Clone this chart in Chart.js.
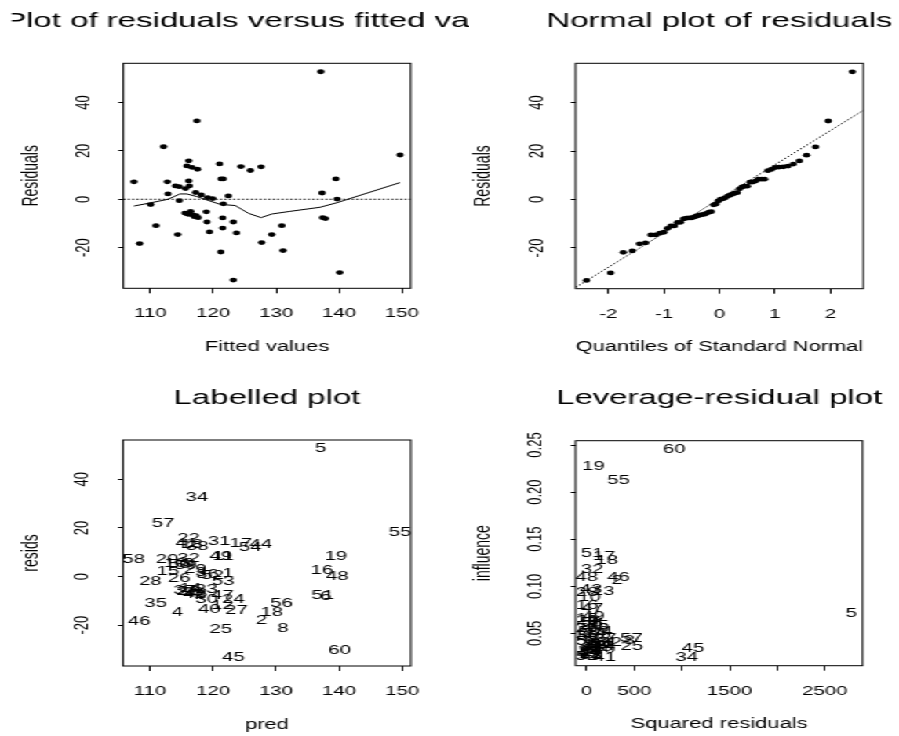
<!DOCTYPE html>
<html>
<head>
<meta charset="utf-8">
<title>Regression diagnostics</title>
<script src="https://cdn.jsdelivr.net/npm/chart.js@4"></script>
<style>
  html, body { margin: 0; padding: 0; background: #fff; overflow: hidden; }
  /* the original picture is stretched sideways, so draw narrow and scale x */
  #wrap { position: absolute; left: 0; top: 0; width: 573px; height: 736px;
          transform: scaleX(1.56894); transform-origin: 0 0; }
  #wrap canvas { position: absolute; }
</style>
</head>
<body>
<div id="wrap">
  <canvas id="c1" width="299" height="368" style="left:0;top:0"></canvas>
  <canvas id="c2" width="274" height="368" style="left:299px;top:0"></canvas>
  <canvas id="c3" width="299" height="368" style="left:0;top:368px"></canvas>
  <canvas id="c4" width="274" height="368" style="left:299px;top:368px"></canvas>
</div>
<script>
// observation numbers 1..60
const obsIds = [1, 2, 3, 4, 5, 6, 7, 8, 9, 10,
  11, 12, 13, 14, 15, 16, 17, 18, 19, 20,
  21, 22, 23, 24, 25, 26, 27, 28, 29, 30,
  31, 32, 33, 34, 35, 36, 37, 38, 39, 40,
  41, 42, 43, 44, 45, 46, 47, 48, 49, 50,
  51, 52, 53, 54, 55, 56, 57, 58, 59, 60];

const fitted = [122.4, 127.7, 118.1, 114.35, 137.1, 137.85, 117.6, 131.1, 116.2, 114.0,
  121.6, 121.5, 116.6, 116.4, 112.8, 137.3, 124.4, 129.3, 139.5, 112.7,
  115.9, 116.1, 118.9, 123.2, 121.2, 114.6, 123.7, 110.05, 117.2, 119.0,
  121.0, 116.1, 116.8, 117.4, 110.9, 119.1, 115.5, 117.5, 116.2, 119.4,
  115.8, 117.0, 117.3, 127.6, 123.2, 108.3, 121.5, 139.7, 121.25, 114.6,
  137.4, 119.9, 121.6, 125.9, 149.7, 130.9, 112.1, 107.4, 115.6, 140.1];

const resids = [1.4, -17.9, 1.8, -14.6, 52.7, -8.0, -7.6, -21.2, 5.5, 5.5,
  8.4, -11.9, 13.2, -5.0, 2.2, 2.6, 13.5, -14.6, 8.4, 7.2,
  -6.1, 15.9, -5.2, -9.4, -21.8, -0.6, -13.9, -2.2, 2.8, -9.4,
  14.6, 7.6, -6.5, 32.4, -10.9, 0.7, -5.7, 12.4, -6.2, -13.5,
  13.8, -7.2, -6.8, 13.4, -33.4, -18.3, -7.7, 0.1, 8.4, 5.2,
  -7.6, 0.3, -1.9, 11.9, 18.3, -10.9, 21.7, 7.2, 4.4, -30.3];

const influence = [0.030, 0.106, 0.035, 0.052, 0.071, 0.062, 0.033, 0.043, 0.040, 0.088,
  0.038, 0.045, 0.095, 0.030, 0.066, 0.080, 0.132, 0.128, 0.227, 0.058,
  0.028, 0.040, 0.032, 0.050, 0.036, 0.055, 0.045, 0.094, 0.064, 0.037,
  0.040, 0.118, 0.027, 0.025, 0.058, 0.048, 0.031, 0.035, 0.029, 0.033,
  0.025, 0.034, 0.097, 0.036, 0.034, 0.109, 0.076, 0.109, 0.068, 0.052,
  0.135, 0.026, 0.042, 0.038, 0.212, 0.055, 0.045, 0.062, 0.047, 0.245];

// smooth line through the residual plot
const smoothX = [107.4, 110.0, 112.8, 114.7, 115.8, 117.4, 119.0, 121.1, 123.5, 125.6, 127.6, 129.3, 132.2, 137.0, 139.7, 149.7];
const smoothY = [-2.8, -1.5, 0.0, 2.2, 2.2, 1.1, -0.3, -2.1, -2.6, -5.8, -7.6, -6.1, -5.0, -3.3, -1.4, 6.9];

// normal scores for n = 60
const normScores = [-2.394, -1.960, -1.732, -1.569, -1.440, -1.331, -1.235, -1.150, -1.073, -1.001,
  -0.935, -0.872, -0.812, -0.755, -0.701, -0.649, -0.598, -0.549, -0.501, -0.454,
  -0.408, -0.363, -0.319, -0.275, -0.232, -0.189, -0.147, -0.105, -0.063, -0.021,
  0.021, 0.063, 0.105, 0.147, 0.189, 0.232, 0.275, 0.319, 0.363, 0.408,
  0.454, 0.501, 0.549, 0.598, 0.649, 0.701, 0.755, 0.812, 0.872, 0.935,
  1.001, 1.073, 1.150, 1.235, 1.331, 1.440, 1.569, 1.732, 1.960, 2.394];
const qqIntercept = 0.25;
const qqSlope = 14.1;

// ticks
const fitTicks = [110, 120, 130, 140, 150];
const fitLabels = ['110', '120', '130', '140', '150'];
const resTicks = [-20, 0, 20, 40];
const resLabels = ['-20', '0', '20', '40'];
const normTicks = [-2, -1, 0, 1, 2];
const normLabels = ['-2', '-1', '0', '1', '2'];
const sqTicks = [0, 500, 1000, 1500, 2000, 2500];
const sqLabels = ['0', '500', '', '1500', '', '2500'];
const infTicks = [0.05, 0.10, 0.15, 0.20, 0.25];
const infLabels = ['0.05', '0.10', '0.15', '0.20', '0.25'];

Chart.defaults.font.family = '"Liberation Sans", Arial, Helvetica, sans-serif';
Chart.defaults.color = '#000';

const boxPlugin = {
  id: 'rbox',
  afterDatasetsDraw(chart) {
    const { ctx, chartArea: a } = chart;
    ctx.save();
    ctx.strokeStyle = '#000';
    ctx.lineWidth = 1;
    ctx.strokeRect(a.left, a.top, a.right - a.left, a.bottom - a.top);
    ctx.restore();
  }
};

function titlePlugin(text, y, clipLeft) {
  return {
    id: 'rtitle',
    afterDraw(chart) {
      const { ctx, chartArea: a, width, height } = chart;
      ctx.save();
      ctx.beginPath();
      ctx.rect(clipLeft, 0, width - clipLeft, height);
      ctx.clip();
      ctx.font = '21px "Liberation Sans", Arial, sans-serif';
      ctx.fillStyle = '#000';
      ctx.textAlign = 'center';
      ctx.textBaseline = 'alphabetic';
      ctx.fillText(text, (a.left + a.right) / 2, y);
      ctx.restore();
    }
  };
}

// writes the observation number at each point of dataset 0
function labelPlugin(ids) {
  return {
    id: 'rlabels',
    afterDatasetsDraw(chart) {
      const ctx = chart.ctx;
      const meta = chart.getDatasetMeta(0);
      ctx.save();
      ctx.font = '13px "Liberation Sans", Arial, sans-serif';
      ctx.fillStyle = '#000';
      ctx.textAlign = 'center';
      ctx.textBaseline = 'middle';
      meta.data.forEach((el, i) => ctx.fillText(String(ids[i]), el.x, el.y));
      ctx.restore();
    }
  };
}

function makePanel(id, g, o) {
  const plugins = [boxPlugin, titlePlugin(o.title, o.titleY, o.clipLeft || 0)];
  if (o.ids) plugins.push(labelPlugin(o.ids));
  return new Chart(document.getElementById(id), {
    type: 'scatter',
    data: { datasets: o.datasets },
    options: {
      responsive: false,
      animation: false,
      devicePixelRatio: 1,
      events: [],
      layout: { padding: { left: 0, top: g.top, right: g.w - g.right, bottom: 0 } },
      plugins: { legend: { display: false }, tooltip: { enabled: false } },
      scales: {
        x: {
          type: 'linear', position: 'bottom', min: o.xMin, max: o.xMax,
          afterBuildTicks: s => { s.ticks = o.xTicks.map(v => ({ value: v })); },
          afterFit: s => { s.height = g.h - g.bottom; },
          border: { display: false },
          grid: { drawOnChartArea: false, drawTicks: true, tickLength: 5, color: '#000', lineWidth: 1 },
          ticks: { color: '#000', font: { size: 13 }, padding: 12.5, minRotation: 0, maxRotation: 0,
                   autoSkip: false, callback: (v, i) => o.xLabels[i] },
          title: { display: true, text: o.xTitle, color: '#000', font: { size: 14 },
                   padding: { top: 0, bottom: o.xTitlePad } }
        },
        y: {
          type: 'linear', position: 'left', min: o.yMin, max: o.yMax,
          afterBuildTicks: s => { s.ticks = o.yTicks.map(v => ({ value: v })); },
          afterFit: s => { s.width = g.left; },
          border: { display: false },
          grid: { drawOnChartArea: false, drawTicks: true, tickLength: 3.2, color: '#000', lineWidth: 1 },
          ticks: { color: '#000', font: { size: 13 }, padding: o.yTickPad, minRotation: 90, maxRotation: 90,
                   crossAlign: 'center', autoSkip: false, callback: (v, i) => o.yLabels[i] },
          title: { display: true, text: o.yTitle, color: '#000', font: { size: 14 },
                   padding: { top: o.yTitlePad, bottom: 0 } }
        }
      }
    },
    plugins: plugins
  });
}

const resMin = -36.8, resMax = 56.2;
const fitMin = 105.7, fitMax = 151.4;

const dotStyle = { pointRadius: 2.4, pointBackgroundColor: '#000', pointBorderWidth: 0, showLine: false };
const lineStyle = { showLine: true, pointRadius: 0, borderColor: '#000', borderWidth: 1 };

// 1: residuals vs fitted
makePanel('c1', { w: 299, h: 368, left: 78.6, right: 261.8, top: 63.3, bottom: 288.3 }, {
  title: 'Plot of residuals versus fitted values', titleY: 26.5, clipLeft: 7.6,
  xMin: fitMin, xMax: fitMax, xTicks: fitTicks, xLabels: fitLabels, xTitle: 'Fitted values', xTitlePad: 12.8,
  yMin: resMin, yMax: resMax, yTicks: resTicks, yLabels: resLabels, yTitle: 'Residuals', yTitlePad: 11.4, yTickPad: 12.9,
  datasets: [
    { ...dotStyle, data: fitted.map((x, i) => ({ x: x, y: resids[i] })) },
    { ...lineStyle, data: smoothX.map((x, i) => ({ x: x, y: smoothY[i] })) },
    { ...lineStyle, borderDash: [1.4, 1.4], data: [{ x: fitMin, y: 0 }, { x: fitMax, y: 0 }] }
  ]
});

// 2: normal plot
const sortedRes = resids.slice().sort((a, b) => a - b);
makePanel('c2', { w: 274, h: 368, left: 67.9, right: 251.2, top: 63.3, bottom: 288.7 }, {
  title: 'Normal plot of residuals', titleY: 26.5,
  xMin: -2.59, xMax: 2.59, xTicks: normTicks, xLabels: normLabels, xTitle: 'Quantiles of Standard Normal', xTitlePad: 12.4,
  yMin: resMin, yMax: resMax, yTicks: resTicks, yLabels: resLabels, yTitle: 'Residuals', yTitlePad: 0.6, yTickPad: 12.2,
  datasets: [
    { ...dotStyle, data: normScores.map((q, i) => ({ x: q, y: sortedRes[i] })) },
    { ...lineStyle, borderDash: [1.4, 1.4],
      data: [-2.7, 2.7].map(q => ({ x: q, y: qqIntercept + qqSlope * q })) }
  ]
});

// 3: labelled plot
makePanel('c3', { w: 299, h: 368, left: 78.4, right: 261.9, top: 72, bottom: 298 }, {
  title: 'Labelled plot', titleY: 36, ids: obsIds,
  xMin: fitMin, xMax: fitMax, xTicks: fitTicks, xLabels: fitLabels, xTitle: 'pred', xTitlePad: 2.6,
  yMin: resMin, yMax: resMax, yTicks: resTicks, yLabels: resLabels, yTitle: 'resids', yTitlePad: 11.8, yTickPad: 12.9,
  datasets: [
    { pointRadius: 0, showLine: false, data: fitted.map((x, i) => ({ x: x, y: resids[i] })) }
  ]
});

// 4: leverage vs squared residuals
makePanel('c4', { w: 274, h: 368, left: 67.9, right: 250.8, top: 72.7, bottom: 297.7 }, {
  title: 'Leverage-residual plot', titleY: 36, ids: obsIds,
  xMin: -115, xMax: 2895, xTicks: sqTicks, xLabels: sqLabels, xTitle: 'Squared residuals', xTitlePad: 3.4,
  yMin: 0.0157, yMax: 0.2546, yTicks: infTicks, yLabels: infLabels, yTitle: 'influence', yTitlePad: 0.6, yTickPad: 10,
  datasets: [
    { pointRadius: 0, showLine: false, data: resids.map((r, i) => ({ x: r * r, y: influence[i] })) }
  ]
});
</script>
</body>
</html>
